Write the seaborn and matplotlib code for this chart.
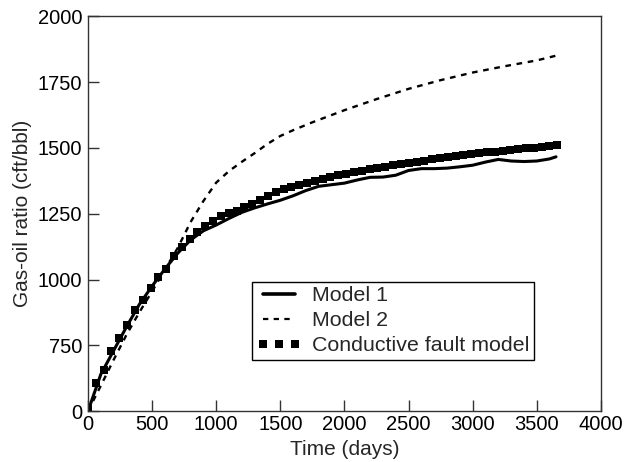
import matplotlib
matplotlib.use('Agg')
import matplotlib.pyplot as plt
import seaborn as sns
import numpy as np
from matplotlib.lines import Line2D

# Model 1 (solid line)
t_model1 = [0, 100, 200, 300, 400, 500, 600, 700, 800, 900, 1000, 1100, 1200,
            1300, 1400, 1500, 1600, 1700, 1800, 1900, 2000, 2100, 2200, 2300,
            2400, 2500, 2600, 2700, 2800, 2900, 3000, 3100, 3200, 3300, 3400,
            3500, 3600, 3650]
gor_model1 = [0, 420, 690, 820, 905, 975, 1040, 1100, 1150, 1185, 1207, 1232,
              1255, 1272, 1287, 1301, 1318, 1338, 1354, 1360, 1366, 1378, 1388,
              1389, 1396, 1414, 1421, 1421, 1423, 1428, 1434, 1446, 1456, 1450,
              1448, 1450, 1458, 1466]

# Model 2 (dashed line)
t_model2 = [0, 100, 200, 300, 400, 500, 600, 700, 800, 900, 1000, 1100, 1200,
            1300, 1400, 1500, 1600, 1750, 2000, 2250, 2500, 2750, 3000, 3250,
            3500, 3650]
gor_model2 = [0, 290, 585, 790, 875, 955, 1038, 1120, 1218, 1298, 1368, 1412,
              1447, 1480, 1515, 1545, 1567, 1597, 1643, 1685, 1724, 1757, 1786,
              1810, 1832, 1850]

# Conductive fault model (square markers)
t_fault = [0, 61, 122, 183, 244, 305, 366, 427, 488, 549, 610, 671, 732, 793,
           854, 915, 976, 1037, 1098, 1159, 1220, 1281, 1342, 1403, 1464, 1525,
           1586, 1647, 1708, 1769, 1830, 1891, 1952, 2013, 2074, 2135, 2196,
           2257, 2318, 2379, 2440, 2501, 2562, 2623, 2684, 2745, 2806, 2867,
           2928, 2989, 3050, 3111, 3172, 3233, 3294, 3355, 3416, 3477, 3538,
           3599, 3660]
gor_fault = [30, 318, 474, 690, 779, 826, 883, 924, 968, 1008, 1041, 1090, 1124,
             1155, 1180, 1202, 1222, 1240, 1251, 1262, 1277, 1287, 1302, 1316,
             1331, 1343, 1351, 1358, 1366, 1374, 1381, 1389, 1395, 1401, 1407,
             1413, 1419, 1425, 1429, 1434, 1438, 1443, 1447, 1451, 1456, 1460,
             1464, 1468, 1472, 1476, 1480, 1483, 1486, 1489, 1492, 1495, 1498,
             1501, 1504, 1507, 1510]

y_ticks = [0, 750, 1000, 1250, 1500, 1750, 2000]
x_ticks = [0, 500, 1000, 1500, 2000, 2500, 3000, 3500, 4000]

sns.set_theme(style='ticks')
plt.rcParams['font.family'] = ['Liberation Sans', 'DejaVu Sans']

# eixo y quebrado: 0-750 comprimido no mesmo espaco que 750-1000
def fwd(v):
    v = np.asarray(v, dtype=float)
    return np.where(v < 750, 500 + v / 3.0, v)

def inv(v):
    v = np.asarray(v, dtype=float)
    return np.where(v < 750, (v - 500) * 3.0, v)

fig = plt.figure(figsize=(6.24, 4.62), dpi=100)
ax = fig.add_axes([0.141, 0.110, 0.822, 0.855])
ax.set_yscale('function', functions=(fwd, inv))

sns.lineplot(x=t_model1, y=gor_model1, ax=ax, color='black', linewidth=2.2,
             sort=False, estimator=None)
sns.lineplot(x=t_model2, y=gor_model2, ax=ax, color='black', linewidth=1.7,
             linestyle=(0, (2.4, 2.4)), sort=False, estimator=None)
ax.plot(t_fault, gor_fault, linestyle='none', marker='s', markersize=5.5,
        color='black', markeredgewidth=0)

ax.set_xlim(0, 4000)
ax.set_ylim(0, 2000)
ax.set_xticks(x_ticks)
ax.set_yticks(y_ticks)
ax.set_xticklabels([str(v) for v in x_ticks])
ax.set_yticklabels([str(v) for v in y_ticks])
ax.minorticks_off()
ax.tick_params(direction='in', length=8, width=1, labelsize=14.5, color='#333333',
               labelcolor='black')
ax.tick_params(axis='y', pad=4)
ax.tick_params(axis='x', pad=3)
for s in ax.spines.values():
    s.set_color('#333333')
    s.set_linewidth(1)

ax.set_xlabel('Time (days)', fontsize=15, labelpad=4)
ax.set_ylabel('Gas-oil ratio (cft/bbl)', fontsize=15, labelpad=4)

handles = [
    Line2D([], [], color='black', linewidth=2.6),
    Line2D([], [], color='black', linewidth=1.6, linestyle=(0, (2.4, 2.4))),
    Line2D([], [], color='black', linestyle='none', marker='s', markersize=6,
           markeredgewidth=0),
]
leg = ax.legend(handles, ['Model 1', 'Model 2', 'Conductive fault model'],
                loc='upper left', bbox_to_anchor=(0.3197, 0.3266), borderaxespad=0,
                fontsize=15.4, frameon=True, fancybox=False, framealpha=1,
                edgecolor='black', handlelength=2.1, handletextpad=0.5,
                labelspacing=0.28, borderpad=0.2, numpoints=3)
leg.get_frame().set_linewidth(1)

plt.savefig('out.png', dpi=100)
plt.close()
